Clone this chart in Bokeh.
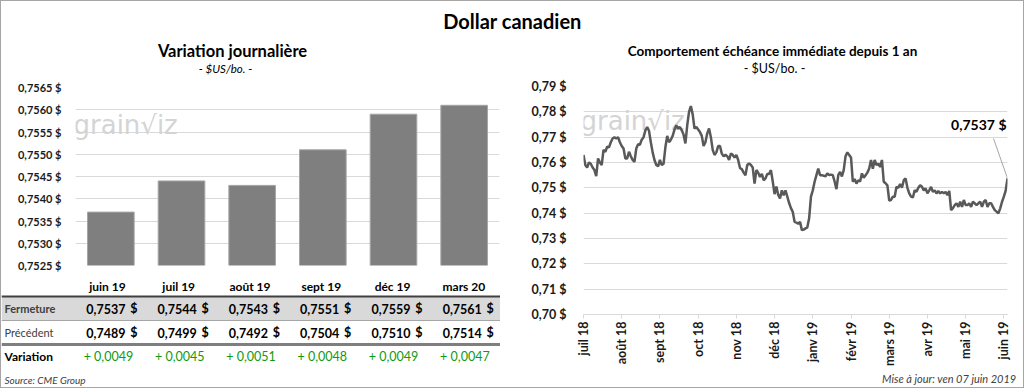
import math
from bokeh.plotting import figure
from bokeh.models import (ColumnDataSource, FactorRange, Range1d, Label, Span,
                          CustomJSTickFormatter, FixedTicker, SingleIntervalTicker)
from bokeh.layouts import column, row
from bokeh.embed import file_html
from bokeh.resources import INLINE
from bokeh.core.properties import value

# ---------------- data ----------------
contracts = ["juin 19", "juil 19", "août 19", "sept 19", "déc 19", "mars 20"]
closes = [0.7537, 0.7544, 0.7543, 0.7551, 0.7559, 0.7561]
previous = [0.7489, 0.7499, 0.7492, 0.7504, 0.7510, 0.7514]
changes = [0.0049, 0.0045, 0.0051, 0.0048, 0.0049, 0.0047]
bar_ticks = [0.7525, 0.7530, 0.7535, 0.7540, 0.7545, 0.7550, 0.7555, 0.7560, 0.7565]

month_labels = ["juil 18", "août 18", "sept 18", "oct 18", "nov 18", "déc 18",
                "janv 19", "févr 19", "mars 19", "avr 19", "mai 19", "juin 19"]

front_month = [
    0.7630, 0.7590, 0.7580, 0.7600, 0.7595, 0.7580, 0.7570, 0.7546, 0.7616, 0.7600,
    0.7590, 0.7650, 0.7642, 0.7662, 0.7660, 0.7680, 0.7695, 0.7700, 0.7695, 0.7700,
    0.7680, 0.7665, 0.7655, 0.7616, 0.7616, 0.7642, 0.7625, 0.7610, 0.7603, 0.7655,
    0.7672, 0.7670, 0.7690, 0.7700, 0.7727, 0.7740, 0.7725, 0.7680, 0.7640, 0.7610,
    0.7590, 0.7585, 0.7610, 0.7590, 0.7595, 0.7660, 0.7705, 0.7680, 0.7690, 0.7705,
    0.7730, 0.7747, 0.7734, 0.7740, 0.7727, 0.7710, 0.7675, 0.7747, 0.7800, 0.7823,
    0.7790, 0.7734, 0.7740, 0.7730, 0.7720, 0.7705, 0.7665, 0.7680, 0.7715, 0.7734,
    0.7700, 0.7650, 0.7630, 0.7640, 0.7665, 0.7665, 0.7635, 0.7625, 0.7630, 0.7625,
    0.7610, 0.7635, 0.7630, 0.7620, 0.7630, 0.7610, 0.7578, 0.7574, 0.7560, 0.7550,
    0.7590, 0.7596, 0.7590, 0.7580, 0.7517, 0.7570, 0.7560, 0.7543, 0.7555, 0.7530,
    0.7537, 0.7555, 0.7555, 0.7570, 0.7525, 0.7475, 0.7505, 0.7472, 0.7458, 0.7490,
    0.7470, 0.7490, 0.7465, 0.7440, 0.7420, 0.7405, 0.7366, 0.7363, 0.7358, 0.7366,
    0.7333, 0.7335, 0.7340, 0.7344, 0.7380, 0.7465, 0.7490, 0.7524, 0.7550, 0.7576,
    0.7550, 0.7550, 0.7548, 0.7545, 0.7557, 0.7550, 0.7552, 0.7550, 0.7525, 0.7495,
    0.7550, 0.7563, 0.7545, 0.7570, 0.7625, 0.7640, 0.7630, 0.7620, 0.7524, 0.7535,
    0.7517, 0.7530, 0.7525, 0.7557, 0.7540, 0.7550, 0.7560, 0.7576, 0.7610, 0.7575,
    0.7610, 0.7590, 0.7595, 0.7583, 0.7610, 0.7524, 0.7518, 0.7510, 0.7450, 0.7452,
    0.7465, 0.7465, 0.7504, 0.7500, 0.7515, 0.7500, 0.7530, 0.7537, 0.7500, 0.7478,
    0.7465, 0.7462, 0.7490, 0.7485, 0.7500, 0.7510, 0.7504, 0.7490, 0.7498, 0.7478,
    0.7490, 0.7504, 0.7484, 0.7490, 0.7478, 0.7488, 0.7478, 0.7484, 0.7478, 0.7484,
    0.7471, 0.7488, 0.7412, 0.7420, 0.7432, 0.7439, 0.7425, 0.7445, 0.7425, 0.7452,
    0.7432, 0.7432, 0.7439, 0.7425, 0.7445, 0.7439, 0.7432, 0.7439, 0.7445, 0.7425,
    0.7445, 0.7452, 0.7425, 0.7439, 0.7439, 0.7425, 0.7412, 0.7406, 0.7399, 0.7419,
    0.7445, 0.7465, 0.7489, 0.7537,
]

# ---------------- style ----------------
FONT = "Lato"
GRID = "#d9d9d9"
TXT = "#1a1a1a"
WM = "#d4d4d4"
INNER_W = 1022
TOP_H, MID_H, FOOT_H = 77, 290, 19
LEFT_W = 499
RIGHT_W = INNER_W - LEFT_W
BAR_H = 194


def fr(v, nd=4):
    return f"{v:.{nd}f}".replace(".", ",")


def base_fig(**kw):
    p = figure(output_backend="svg", toolbar_location=None, **kw)
    p.outline_line_color = None
    p.background_fill_color = "white"
    p.border_fill_color = "white"
    return p


def text_fig(w, h):
    p = base_fig(width=w, height=h, x_range=Range1d(0, w), y_range=Range1d(h, 0), min_border=0,
                 x_axis_location=None, y_axis_location=None)
    p.grid.visible = False
    return p


# ---------------- header (titles) ----------------
top = text_fig(INNER_W, TOP_H)
hdr = dict(text_font=value(FONT), text_align="center", text_baseline="middle", text_color="black")
top.text(x=[511], y=[19], text=["Dollar canadien"], text_font_size="20px", text_font_style="bold", **hdr)
top.text(x=[231], y=[49], text=["Variation journalière"], text_font_size="16.5px", text_font_style="bold", **hdr)
top.text(x=[224], y=[67], text=["- $US/bo. -"], text_font_size="11.5px", text_font_style="italic", **hdr)
top.text(x=[771], y=[49], text=["Comportement échéance immédiate depuis 1 an"],
         text_font_size="13.5px", text_font_style="bold", **hdr)
top.text(x=[773], y=[67], text=["- $US/bo. -"], text_font_size="12.5px", **hdr)

# ---------------- bar chart ----------------
bar = base_fig(width=LEFT_W, height=BAR_H, x_range=FactorRange(*contracts),
               y_range=Range1d(bar_ticks[0], bar_ticks[-1]),
               min_border_left=74, min_border_right=1, min_border_top=9, min_border_bottom=7)
bar.xaxis.visible = False
bar.xgrid.visible = False
bar.ygrid.grid_line_color = GRID
bar.yaxis.ticker = FixedTicker(ticks=bar_ticks)
bar.yaxis.formatter = CustomJSTickFormatter(code="return tick.toFixed(4).replace('.', ',') + ' $';")
bar.yaxis.axis_line_color = None
bar.yaxis.major_tick_line_color = None
bar.yaxis.minor_tick_line_color = None
bar.yaxis.major_label_text_font = FONT
bar.yaxis.major_label_text_font_size = "11px"
bar.yaxis.major_label_text_font_style = "bold"
bar.yaxis.major_label_text_color = TXT
bar.yaxis.major_label_standoff = 8

bsrc = ColumnDataSource(dict(contract=contracts, close=closes))
bar.vbar(x="contract", top="close", bottom=bar_ticks[0], width=0.66, source=bsrc,
         fill_color="#7f7f7f", line_color="#a6a6a6", line_width=1)
bar.add_layout(Label(x=-2, y=141, x_units="screen", y_units="screen", text="grain\u221aiz",
                     text_align="left", text_baseline="middle", text_font="DejaVu Sans",
                     text_font_size="26px", text_color=WM, level="underlay"))

# ---------------- table ----------------
cols = ["label"] + contracts
rows = ["Variation", "Précédent", "Fermeture", "header"]
tbl = base_fig(width=LEFT_W, height=MID_H - BAR_H, x_range=FactorRange(*cols), y_range=FactorRange(*rows),
               min_border=0, x_axis_location=None, y_axis_location=None)
tbl.grid.visible = False

tbl.hbar(y=["Fermeture"], left=0, right=len(cols), height=1, fill_color="#d9d9d9", line_color=None)
tbl.add_layout(Span(location=3, dimension="width", line_color="#404040", line_width=2))
tbl.add_layout(Span(location=2, dimension="width", line_color="#a6a6a6", line_width=1))
tbl.add_layout(Span(location=1, dimension="width", line_color="#7f7f7f", line_width=3))

common = dict(text_font=value(FONT), text_baseline="middle")
tbl.text(x=contracts, y=["header"] * 6, text=contracts, text_align="center", x_offset=-1, y_offset=2,
         text_font_size="12px", text_font_style="bold", text_color="black", **common)
tbl.text(x=[0], y=["Fermeture"], text=["Fermeture"], text_align="left", x_offset=3,
         text_font_size="11px", text_font_style="bold", text_color="#404040", **common)
tbl.text(x=[0], y=["Précédent"], text=["Précédent"], text_align="left", x_offset=3,
         text_font_size="11px", text_color="#404040", **common)
tbl.text(x=[0], y=["Variation"], text=["Variation"], text_align="left", x_offset=3,
         text_font_size="12px", text_font_style="bold", text_color="black", **common)
for rname, vals in (("Fermeture", closes), ("Précédent", previous)):
    tbl.text(x=contracts, y=[rname] * 6, text=[fr(v) for v in vals], text_align="right", x_offset=17,
             text_font_size="12.5px", text_font_style="bold", text_color="black", **common)
    tbl.text(x=contracts, y=[rname] * 6, text=["$"] * 6, text_align="right", x_offset=29,
             text_font_size="12.5px", text_font_style="bold", text_color="black", **common)
tbl.text(x=contracts, y=["Variation"] * 6, text=["+ " + fr(v) for v in changes], text_align="center",
         x_offset=0, text_font_size="12.5px", text_color="#109a10", **common)

# ---------------- line chart ----------------
n = len(front_month)
ln = base_fig(width=RIGHT_W, height=MID_H, x_range=Range1d(0, n - 1), y_range=Range1d(0.70, 0.79),
              min_border_left=83, min_border_right=16, min_border_top=8, min_border_bottom=54)
ln.xgrid.visible = False
ln.ygrid.grid_line_color = GRID
ln.yaxis.ticker = SingleIntervalTicker(interval=0.01)
ln.yaxis.formatter = CustomJSTickFormatter(code="return tick.toFixed(2).replace('.', ',') + ' $';")
ln.yaxis.axis_line_color = None
ln.yaxis.major_tick_line_color = None
ln.yaxis.minor_tick_line_color = None
ln.yaxis.major_label_standoff = 11
step = 21
ticks = list(range(0, step * len(month_labels), step))
ln.xaxis.ticker = FixedTicker(ticks=ticks)
ln.xaxis.major_label_overrides = {t: lab for t, lab in zip(ticks, month_labels)}
ln.xaxis.major_label_orientation = math.pi / 2
ln.xaxis.axis_line_color = GRID
ln.xaxis.major_tick_line_color = GRID
ln.xaxis.major_tick_in = 0
ln.xaxis.major_tick_out = 4
ln.xaxis.minor_tick_line_color = None
ln.xaxis.major_label_standoff = 3
for ax in (ln.xaxis[0], ln.yaxis[0]):
    ax.major_label_text_font = FONT
    ax.major_label_text_font_size = "12.5px"
    ax.major_label_text_font_style = "bold"
    ax.major_label_text_color = TXT

lsrc = ColumnDataSource(dict(i=list(range(n)), v=front_month))
ln.line(x="i", y="v", source=lsrc, line_color="#595959", line_width=2.5)

last_i, last_v = n - 1, front_month[-1]
ln.segment(x0=[last_i - 7.7], y0=[last_v + 0.0158], x1=[last_i], y1=[last_v],
           line_color="#a6a6a6", line_width=1)
ln.add_layout(Label(x=last_i, y=last_v, x_offset=-1, y_offset=54, text=fr(last_v) + " $",
                    text_align="right", text_baseline="middle", text_font=FONT,
                    text_font_size="14px", text_font_style="bold", text_color="black"))
ln.add_layout(Label(x=-3, y=194, x_units="screen", y_units="screen", text="grain\u221aiz",
                    text_align="left", text_baseline="middle", text_font="DejaVu Sans",
                    text_font_size="26px", text_color=WM, level="underlay"))

# ---------------- footer ----------------
foot = text_fig(INNER_W, FOOT_H)
foot.text(x=[3], y=[11], text=["Source: CME Group"], text_align="left", text_font_size="10px",
          text_font_style="italic", text_color="#404040", **common)
foot.text(x=[1015], y=[10], text=["Mise à jour: ven 07 juin 2019"], text_align="right",
          text_font_size="11px", text_font_style="italic", text_color="#404040", **common)

left = column(bar, row(tbl))
layout = column(top, row(left, ln), foot, styles={"border": "1px solid #a6a6a6"})

open("out.html", "w").write(file_html(layout, INLINE))
